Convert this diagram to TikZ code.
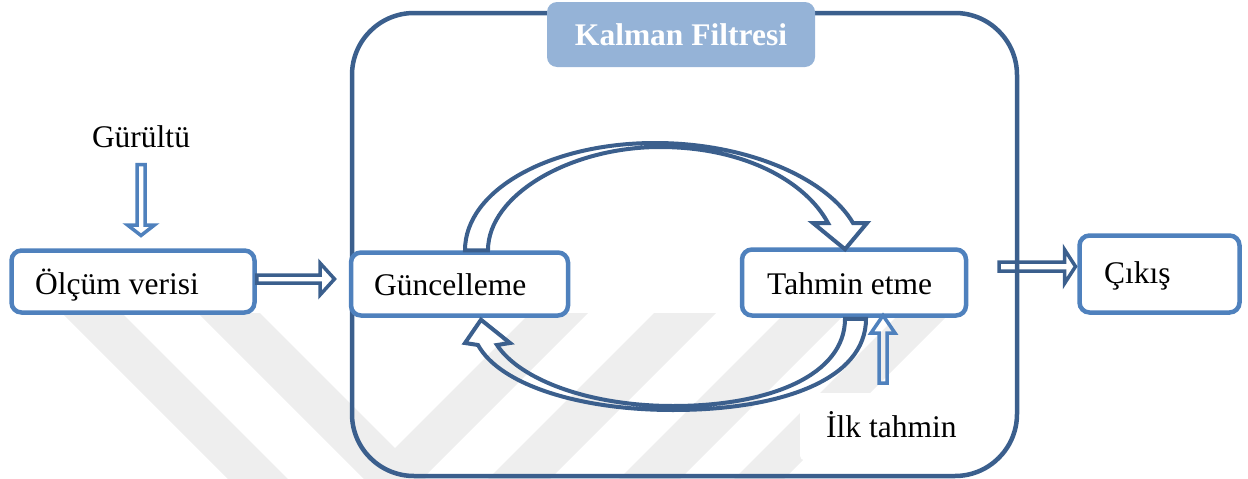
\documentclass[tikz,border=0pt]{standalone}
\usepackage{fontspec}
\setmainfont{Liberation Serif}
\usetikzlibrary{calc}

\definecolor{frameblue}{HTML}{3B5F8D}
\definecolor{boxblue}{HTML}{4F81BD}
\definecolor{tagblue}{HTML}{95B3D7}
\definecolor{markgray}{HTML}{EEEEEE}

\tikzset{
  % hollow straight block arrow drawn from the start point to the tip
  % #1 shaft half width, #2 head half width, #3 head length
  hollow arrow/.style n args={3}{to path={
    (\tikztostart) coordinate (hastart) (\tikztotarget) coordinate (haend)
    ($(haend)!#3!(hastart)$) coordinate (habase)
    ($(hastart)!#1!90:(haend)$) -- ($(habase)!#1!-90:(hastart)$)
    -- ($(habase)!#2!-90:(hastart)$) -- (haend)
    -- ($(habase)!#2!90:(hastart)$) -- ($(habase)!#1!90:(hastart)$)
    -- ($(hastart)!#1!-90:(haend)$) -- cycle}},
  txt/.style={inner sep=0pt, font=\fontsize{31.5}{38}\selectfont},
  stagebox/.style={draw=boxblue, line width=4.5pt, rounded corners=10pt,
    fill=white, inner sep=0pt},
  frame/.style={draw=frameblue, line width=4.5pt, rounded corners=62pt,
    inner sep=0pt},
  tag/.style={fill=tagblue, rounded corners=10pt, inner sep=0pt,
    text=white, font=\fontsize{31.5}{38}\selectfont\bfseries},
  darkarrow/.style={draw=frameblue, line width=3.5pt, line join=miter},
  lightarrow/.style={draw=boxblue, line width=3.5pt, line join=miter},
  curvearrow/.style={draw=frameblue, line width=4pt, line join=miter},
  band/.style={fill=markgray},
}

\begin{document}
\begin{tikzpicture}[x=1pt, y=-1pt]
\useasboundingbox (0,0) rectangle (1248,479);

% faint diagonal background bands
\fill[band] (62,313) -- (122,313) -- (288,479) -- (228,479) -- cycle;
\fill[band] (198,313) -- (260,313) -- (426,479) -- (364,479) -- cycle;
\fill[band] (530,313) -- (588,313) -- (422,479) -- (364,479) -- cycle;
\fill[band] (654,313) -- (716,313) -- (550,479) -- (488,479) -- cycle;
\fill[band] (785,313) -- (846,313) -- (680,479) -- (619,479) -- cycle;
\fill[band] (900,313) -- (950,313) -- (784,479) -- (734,479) -- cycle;

% white patch behind the initial-estimate label
\node[fill=white, rounded corners=4pt, inner sep=0pt, minimum width=205pt,
      minimum height=67pt, anchor=north west] (ilkbg) at (800,393) {};

% Kalman filter container and its title
\node[frame, minimum width=665pt, minimum height=463pt] (kf) at (684.5,244.5) {};
\node[tag, minimum width=268pt, minimum height=65pt] (kftag) at (681,34.5) {Kalman Filtresi};

% stage boxes
\node[stagebox, minimum width=243pt, minimum height=62pt] (olcum) at (133,281.5) {};
\node[stagebox, minimum width=217pt, minimum height=63pt] (guncel) at (459.5,284) {};
\node[stagebox, minimum width=224pt, minimum height=66pt] (tahmin) at (854,282.5) {};
\node[stagebox, minimum width=160pt, minimum height=77pt] (cikis) at (1159.5,274) {};

% texts
\node[txt, anchor=base] (gurultu) at (141,147.5) {Gürültü};
\node[txt, anchor=base west] (olcumT) at (35,294) {Ölçüm verisi};
\node[txt, anchor=base west] (guncelT) at (374,295) {Güncelleme};
\node[txt, anchor=base west] (tahminT) at (767,294) {Tahmin etme};
\node[txt, anchor=base west] (cikisT) at (1104,283) {Çıkış};
\node[txt, anchor=base west] (ilkT) at (826,437) {İlk tahmin};

% straight block arrows
\coordinate (noiseS) at ($(gurultu.south)+(0,16.5)$);
\coordinate (noiseE) at ($(gurultu.south |- olcum.north)+(0,-12.75)$);
\draw[lightarrow] (noiseS) to[hollow arrow={4pt}{13.5pt}{10.5pt}] (noiseE);

\coordinate (measS) at ($(olcum.east)+(0,-2.5)$);
\coordinate (measE) at ($(guncel.west)+(-14.25,-5)$);
\draw[darkarrow] (measS) to[hollow arrow={4pt}{16pt}{14.5pt}] (measE);

\coordinate (outS) at ($(tahmin.east)+(30.75,-16)$);
\coordinate (outE) at ($(cikis.west)+(-1.75,-7.5)$);
\draw[darkarrow] (outS) to[hollow arrow={4.5pt}{17pt}{11pt}] (outE);

\coordinate (initS) at ($(tahmin.south)+(29,65.25)$);
\coordinate (initE) at ($(tahmin.south)+(29,-2.25)$);
\draw[lightarrow] (initS) to[hollow arrow={4pt}{12pt}{17.5pt}] (initE);

% curved block arrow: update -> predict
\coordinate (topA) at ($(guncel.north)+(5.5,0)$);
\coordinate (topB) at ($(guncel.north)+(28.5,0)$);
\coordinate (topTip) at ($(tahmin.north)+(-9,2)$);
\draw[curvearrow] (topA) .. controls (465,190) and (550,143) .. (655,143)
  .. controls (750,143) and (828,180) .. (853,223)
  -- (867,223) -- (topTip) -- (813,223) -- (828,223)
  .. controls (806,182) and (745,147) .. (660,147)
  .. controls (570,147) and (488,195) .. (topB) -- cycle;

% curved block arrow: predict -> update
\coordinate (botA) at ($(tahmin.south)+(12,1)$);
\coordinate (botB) at ($(tahmin.south)+(-9,1)$);
\coordinate (botTip) at ($(guncel.south)+(21.5,2)$);
\draw[curvearrow] (botA) .. controls (866,380) and (780,410) .. (673,410)
  .. controls (580,410) and (500,385) .. (478,345)
  -- (465,343) -- (botTip) -- (510,343) -- (497,345)
  .. controls (520,380) and (590,406) .. (673,406)
  .. controls (770,406) and (845,375) .. (botB) -- cycle;
\end{tikzpicture}
\end{document}
